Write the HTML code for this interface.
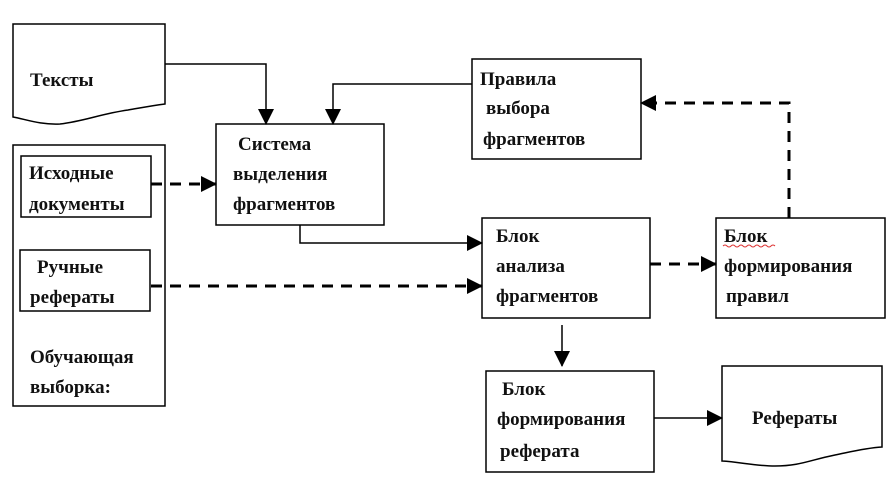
<!DOCTYPE html>
<html><head><meta charset="utf-8"><style>
html,body{margin:0;padding:0;background:#fff;}
svg{display:block;}
text{font-family:"Liberation Serif","DejaVu Serif",serif;font-size:19px;font-weight:bold;fill:#111;}
</style></head><body>
<svg width="896" height="488" viewBox="0 0 896 488" xmlns="http://www.w3.org/2000/svg">
<defs>
<marker id="a" markerWidth="12" markerHeight="12" refX="11" refY="6" orient="auto" markerUnits="userSpaceOnUse">
<path d="M0,0 L12,6 L0,12 z" fill="#000"/></marker>
<marker id="b" markerWidth="16" markerHeight="16" refX="15" refY="8" orient="auto" markerUnits="userSpaceOnUse">
<path d="M0,0 L16,8 L0,16 z" fill="#000"/></marker>
</defs>
<g fill="none" stroke="#000" stroke-width="1.5">
<!-- Тексты document -->
<path d="M13,24 H165 V104 C150,106 140,108 128,110 C100,114 85,121 60,124 C40,125 25,119 13,117 Z"/>
<!-- Outer training box -->
<rect x="13" y="145" width="152" height="261"/>
<rect x="21" y="156" width="130" height="61"/>
<rect x="20" y="250" width="130" height="61"/>
<rect x="216" y="124" width="168" height="101"/>
<rect x="472" y="59" width="169" height="100"/>
<rect x="482" y="218" width="168" height="100"/>
<rect x="716" y="218" width="169" height="100"/>
<rect x="486" y="371" width="168" height="101"/>
<path d="M722,366 H882 V447 C865,448 850,452 835,455 C810,460 800,466 775,466 C755,466 740,462 722,461 Z"/>
</g>
<g fill="none" stroke="#000" stroke-width="1.5">
<path d="M165,64 H266 V124" marker-end="url(#b)"/>
<path d="M472,84 H333 V124" marker-end="url(#b)"/>
<path d="M300,225 V243 H482" marker-end="url(#b)"/>
<path d="M562,325 V366" marker-end="url(#b)"/>
<path d="M654,418 H722" marker-end="url(#b)"/>
</g>
<g fill="none" stroke="#000" stroke-width="3" stroke-dasharray="11,8">
<path d="M151,184 H216" marker-end="url(#b)"/>
<path d="M151,286 H482" marker-end="url(#b)"/>
<path d="M650,264 H716" marker-end="url(#b)"/>
<path d="M789,218 V103 H641" marker-end="url(#b)"/>
</g>
<text x="30" y="86">Тексты</text>
<text x="29" y="179">Исходные</text>
<text x="29" y="210">документы</text>
<text x="37" y="273">Ручные</text>
<text x="30" y="303">рефераты</text>
<text x="30" y="363">Обучающая</text>
<text x="30" y="393">выборка:</text>
<text x="238" y="150">Система</text>
<text x="233" y="180">выделения</text>
<text x="233" y="210">фрагментов</text>
<text x="480" y="85">Правила</text>
<text x="486" y="114">выбора</text>
<text x="483" y="145">фрагментов</text>
<text x="496" y="242">Блок</text>
<text x="496" y="272">анализа</text>
<text x="496" y="302">фрагментов</text>
<text x="724" y="242">Блок</text>
<text x="724" y="272">формирования</text>
<text x="726" y="302">правил</text>
<text x="502" y="395">Блок</text>
<text x="497" y="425">формирования</text>
<text x="500" y="457">реферата</text>
<text x="752" y="424">Рефераты</text>
<path d="M723,246 q2,-2 4,0 t4,0 t4,0 t4,0 t4,0 t4,0 t4,0 t4,0 t4,0 t4,0 t4,0 t4,0 t4,0" fill="none" stroke="#d33" stroke-width="1"/>
</svg>
</body></html>
